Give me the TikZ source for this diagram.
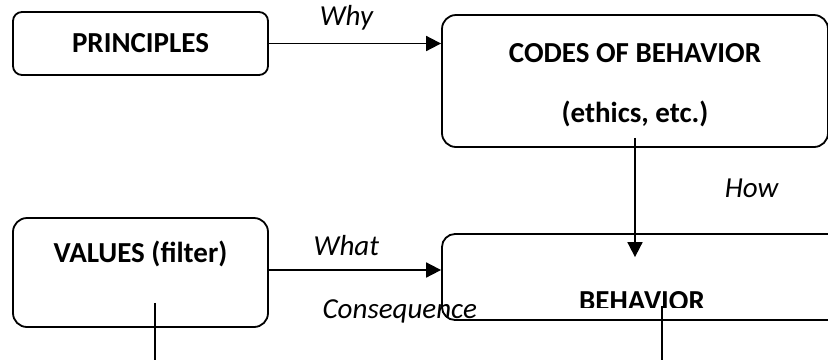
\documentclass[tikz,border=0pt]{standalone}
\usepackage{fontspec}
\setmainfont{Carlito}
\usetikzlibrary{arrows.meta,positioning}

\begin{document}
\begin{tikzpicture}[x=1pt, y=-1pt, line width=1.8pt,
                    block/.style={rectangle, draw, rounded corners=14pt, inner sep=0pt,
                                  font=\bfseries\fontsize{29}{35}\selectfont},
                    edgelabel/.style={font=\itshape\fontsize{29}{35}\selectfont, inner sep=0pt},
                    arrow/.style={-{Triangle[length=15pt, width=15pt]}}]
  \clip (0,0) rectangle (828,360);
  \node[block, rounded corners=9pt, minimum width=255, minimum height=63] (principles) at (140.5,43.5) {PRINCIPLES};
  \node[block, minimum width=386, minimum height=132, align=center, text height=89pt, text depth=7pt,
        font=\bfseries\fontsize{29}{60}\selectfont] (codes) at (635,81) {CODES OF BEHAVIOR\\(ethics, etc.)};
  \node[block, minimum width=255, minimum height=109, text height=20pt, text depth=41pt] (values) at (140.5,272.5) {VALUES (filter)};
  \node[block, rounded corners=13pt, minimum width=400, minimum height=86] (behavior) at (642,277) {};
  \begin{scope}
    \clip (442,234) rectangle (842,307);
    \node[font=\bfseries\fontsize{29}{35}\selectfont, anchor=base, inner sep=0pt] (behaviortext) at (642,310) {BEHAVIOR};
  \end{scope}
  \coordinate (valuesdown) at (155,360);
  \coordinate (behaviordown) at (662,360);
  \draw[arrow] (principles.east) -- node[edgelabel, pos=0.45, anchor=base, yshift=18pt] {Why} (principles.east -| codes.west);
  \draw[arrow] ([yshift=2.5pt]values.east) -- node[edgelabel, pos=0.45, anchor=base, yshift=15pt] {What}
               node[edgelabel, pos=0.76, anchor=base, yshift=-48pt] {Consequence} ([yshift=2.5pt]values.east -| behavior.west);
  \draw[arrow] ([yshift=10pt]codes.south) -- node[edgelabel, anchor=base west, xshift=89pt] {How} ([yshift=-24pt]codes.south |- behavior.north);
  \draw ([xshift=14.5pt,yshift=25pt]values.south) -- (valuesdown);
  \draw ([xshift=20pt,yshift=15pt]behavior.south) -- (behaviordown);
\end{tikzpicture}
\end{document}
